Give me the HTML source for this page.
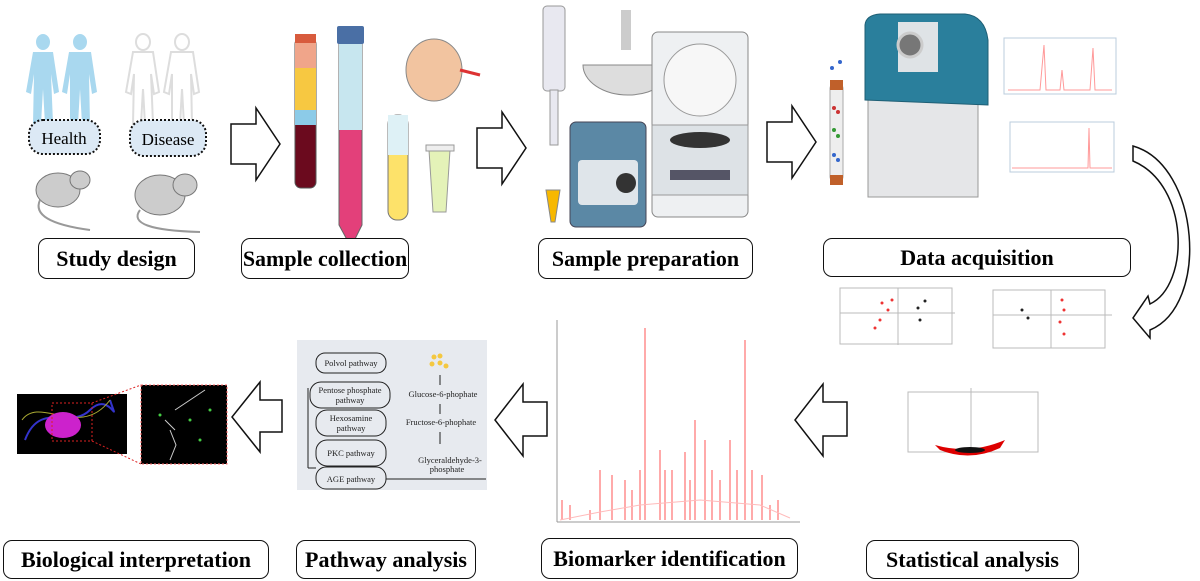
<!DOCTYPE html>
<html><head><meta charset="utf-8"><style>
html,body{margin:0;padding:0;background:#fff;}
body{width:1200px;height:581px;overflow:hidden;position:relative;font-family:"Liberation Serif",serif;}
.lbl{position:absolute;border:1.5px solid #111;border-radius:9px;background:#fff;display:flex;align-items:center;justify-content:center;font-weight:bold;font-size:22px;color:#000;box-sizing:border-box;}
svg{position:absolute;left:0;top:0;}
</style></head><body>
<svg width="1200" height="581" viewBox="0 0 1200 581">
<!-- Study design figures -->
<g fill="#a9d8ef">
<ellipse cx="43" cy="42" rx="7" ry="8"/><path d="M33 52h20l6 40-5 2-3-20 2 50h-8l-2-35-2 35h-8l1-50-3 20-5-2z"/>
<ellipse cx="80" cy="42" rx="7" ry="8"/><path d="M69 52h22l6 40-5 2-3-20 1 50h-8l-2-35-2 35h-8l0-50-3 20-5-2z"/>
</g>
<g fill="none" stroke="#ddd" stroke-width="2">
<ellipse cx="143" cy="42" rx="7" ry="8"/><path d="M133 52h20l6 40-5 2-3-20 2 50h-8l-2-35-2 35h-8l1-50-3 20-5-2z"/>
<ellipse cx="182" cy="42" rx="7" ry="8"/><path d="M171 52h22l6 40-5 2-3-20 1 50h-8l-2-35-2 35h-8l0-50-3 20-5-2z"/>
</g>
<rect x="29" y="120" width="71" height="34" rx="14" fill="#dce9f5" stroke="#111" stroke-width="2" stroke-dasharray="2 2"/>
<text x="64" y="144" font-size="17" text-anchor="middle" font-family="Liberation Serif">Health</text>
<rect x="130" y="120" width="76" height="36" rx="14" fill="#dce9f5" stroke="#111" stroke-width="2" stroke-dasharray="2 2"/>
<text x="168" y="145" font-size="17" text-anchor="middle" font-family="Liberation Serif">Disease</text>
<g fill="#ccc" stroke="#777" stroke-width="1">
<ellipse cx="58" cy="190" rx="22" ry="17"/><ellipse cx="80" cy="180" rx="10" ry="9"/>
<ellipse cx="160" cy="195" rx="25" ry="20"/><ellipse cx="185" cy="185" rx="12" ry="11"/>
</g>
<path d="M40 200 Q30 222 90 230" fill="none" stroke="#999" stroke-width="2"/>
<path d="M140 210 Q125 230 200 232" fill="none" stroke="#999" stroke-width="2"/>

<!-- arrows right -->
<path d="M231 124h25v-16l24 36-24 36v-16h-25z" fill="#fff" stroke="#111" stroke-width="1.5"/>
<path d="M477 128h25v-16l24 36-24 36v-16h-25z" fill="#fff" stroke="#111" stroke-width="1.5"/>
<path d="M767 122h25v-16l24 36-24 36v-16h-25z" fill="#fff" stroke="#111" stroke-width="1.5"/>
<!-- curved arrow -->
<path d="M1133 146 C1200 165 1210 305 1150 330 L1150 338 L1133 318 L1148 296 L1150 304 C1190 285 1190 185 1133 161 Z" fill="#fff" stroke="#111" stroke-width="1.5"/>

<!-- sample collection -->
<rect x="295" y="38" width="21" height="150" rx="6" fill="#6b0a1e" stroke="#555"/>
<rect x="295" y="38" width="21" height="30" fill="#f0a58a"/>
<rect x="295" y="68" width="21" height="42" fill="#f7c841"/>
<rect x="295" y="110" width="21" height="15" fill="#8ccbe8"/>
<rect x="295" y="34" width="21" height="9" fill="#d85b3d"/>
<path d="M339 40h23v185l-11 22-12-22z" fill="#e3407a" stroke="#666"/>
<rect x="339" y="40" width="23" height="90" fill="#c7e6ef"/>
<rect x="337" y="26" width="27" height="18" fill="#4a6fa5" rx="2"/>
<ellipse cx="434" cy="70" rx="28" ry="31" fill="#f2c4a0" stroke="#888"/>
<path d="M460 70l20 5" stroke="#d33" stroke-width="3"/>
<rect x="388" y="115" width="20" height="105" rx="9" fill="#fde26a" stroke="#777"/>
<rect x="388" y="115" width="20" height="40" fill="#def1f6"/>
<path d="M429 150h21l-4 62h-13z" fill="#e4f2b8" stroke="#999"/>
<rect x="426" y="145" width="28" height="6" fill="#eee" stroke="#999"/>

<!-- sample prep -->
<rect x="543" y="6" width="22" height="85" rx="4" fill="#e8e8f0" stroke="#999"/>
<rect x="550" y="90" width="8" height="55" fill="#e8e8f0" stroke="#999"/>
<path d="M546 190h14l-5 32h-4z" fill="#f7b800" stroke="#888"/>
<path d="M583 65 a45 30 0 0 0 90 0z" fill="#ddd" stroke="#888"/>
<rect x="621" y="10" width="10" height="40" fill="#ccc"/>
<rect x="570" y="122" width="76" height="105" rx="6" fill="#5b88a5" stroke="#445"/>
<rect x="578" y="160" width="60" height="45" rx="4" fill="#dfe5ea"/>
<circle cx="626" cy="183" r="10" fill="#333"/>
<rect x="652" y="32" width="96" height="185" rx="6" fill="#eef0f2" stroke="#888"/>
<circle cx="700" cy="80" r="36" fill="#f7f7f7" stroke="#999"/>
<rect x="652" y="125" width="96" height="70" fill="#dde2e6" stroke="#999"/>
<ellipse cx="700" cy="140" rx="30" ry="8" fill="#333"/>
<rect x="670" y="170" width="60" height="10" fill="#556"/>

<!-- data acquisition -->
<rect x="830" y="85" width="13" height="95" rx="3" fill="#eee" stroke="#aaa"/>
<rect x="830" y="80" width="13" height="10" fill="#c0602a"/><rect x="830" y="175" width="13" height="10" fill="#c0602a"/>
<g fill="#c33"><circle cx="834" cy="108" r="2"/><circle cx="838" cy="112" r="2"/></g>
<g fill="#393"><circle cx="834" cy="130" r="2"/><circle cx="838" cy="136" r="2"/></g>
<g fill="#36c"><circle cx="834" cy="155" r="2"/><circle cx="838" cy="160" r="2"/><circle cx="832" cy="68" r="2"/><circle cx="840" cy="62" r="2"/></g>
<rect x="868" y="95" width="110" height="102" fill="#e5e6e8" stroke="#999"/>
<path d="M865 25 Q866 15 880 14 L965 14 Q985 16 988 40 L988 105 L865 100z" fill="#2a7f9c" stroke="#1f5f75"/>
<rect x="898" y="22" width="40" height="50" fill="#dfe3e6"/>
<circle cx="910" cy="45" r="12" fill="#777" stroke="#ccc" stroke-width="3"/>
<rect x="1004" y="38" width="112" height="56" fill="#fff" stroke="#bcd"/>
<path d="M1008 90 L1040 90 1044 45 1046 90 1060 90 1062 70 1064 90 1090 90 1093 48 1095 90 1112 90" fill="none" stroke="#f99"/>
<rect x="1010" y="122" width="104" height="50" fill="#fff" stroke="#bcd"/>
<path d="M1012 168 L1088 168 1089 128 1090 168 1112 168" fill="none" stroke="#f99"/>

<!-- stats -->
<g stroke="#bbb" fill="none"><rect x="840" y="288" width="112" height="56"/><line x1="840" y1="313" x2="955" y2="313"/><line x1="898" y1="288" x2="898" y2="345"/>
<rect x="993" y="290" width="112" height="58"/><line x1="993" y1="315" x2="1112" y2="315"/><line x1="1051" y1="290" x2="1051" y2="348"/>
<rect x="908" y="392" width="130" height="60"/><line x1="971" y1="388" x2="971" y2="452"/></g>
<g fill="#e33"><circle cx="882" cy="303" r="1.5"/><circle cx="888" cy="310" r="1.5"/><circle cx="880" cy="320" r="1.5"/><circle cx="875" cy="328" r="1.5"/><circle cx="892" cy="300" r="1.5"/>
<circle cx="1062" cy="300" r="1.5"/><circle cx="1064" cy="310" r="1.5"/><circle cx="1060" cy="322" r="1.5"/><circle cx="1064" cy="334" r="1.5"/></g>
<g fill="#222"><circle cx="918" cy="308" r="1.5"/><circle cx="925" cy="301" r="1.5"/><circle cx="920" cy="320" r="1.5"/><circle cx="1022" cy="310" r="1.5"/><circle cx="1028" cy="318" r="1.5"/></g>
<path d="M935 445 Q970 455 1005 440 L1000 448 Q970 462 940 450z" fill="#d00"/>
<ellipse cx="970" cy="450" rx="15" ry="3" fill="#111"/>

<!-- pathway image -->
<rect x="297" y="340" width="190" height="150" fill="#e7eaef"/>
<g font-family="Liberation Serif" font-size="8.5" fill="#222" text-anchor="middle">
<rect x="316" y="353" width="70" height="20" rx="9" fill="none" stroke="#222"/><text x="351" y="366">Polvol pathway</text>
<rect x="310" y="382" width="80" height="26" rx="11" fill="none" stroke="#222"/><text x="350" y="393">Pentose phosphate</text><text x="350" y="403">pathway</text>
<rect x="316" y="410" width="70" height="26" rx="11" fill="none" stroke="#222"/><text x="351" y="421">Hexosamine</text><text x="351" y="431">pathway</text>
<rect x="316" y="440" width="70" height="26" rx="11" fill="none" stroke="#222"/><text x="351" y="456">PKC pathway</text>
<rect x="316" y="467" width="70" height="22" rx="10" fill="none" stroke="#222"/><text x="351" y="482">AGE pathway</text>
<text x="443" y="397">Glucose-6-phophate</text><text x="441" y="425">Fructose-6-phophate</text>
<text x="450" y="463">Glyceraldehyde-3-</text><text x="447" y="472">phosphate</text>
</g>
<g fill="#f4c840"><circle cx="434" cy="357" r="2.5"/><circle cx="440" cy="356" r="2.5"/><circle cx="432" cy="364" r="2.5"/><circle cx="440" cy="363" r="2.5"/><circle cx="446" cy="366" r="2.5"/></g>
<path d="M440 375v10M440 404v10M440 432v12" stroke="#222"/>
<path d="M308 388v80M308 468h8M486 479H386" stroke="#222" fill="none"/>

<!-- spectrum -->
<line x1="557" y1="320" x2="557" y2="522" stroke="#999"/><line x1="557" y1="522" x2="800" y2="522" stroke="#999"/>
<path d="M562 520V500M570 520V505M590 520V510M600 520V470M612 520V475M625 520V480M632 520V490M640 520V470M645 520V328M660 520V450M665 520V470M672 520V470M685 520V452M690 520V480M695 520V420M705 520V440M712 520V470M720 520V480M730 520V440M737 520V470M745 520V340M752 520V470M762 520V475M770 520V505M778 520V500" fill="none" stroke="#f55" stroke-width="1"/>
<path d="M560 520 L600 512 L640 505 L700 500 L760 505 L790 518" stroke="#fbb" fill="none"/>

<!-- arrows left -->
<path d="M282 400v32h-22v20l-28-35 28-35v18z" fill="#fff" stroke="#111" stroke-width="1.5"/>
<path d="M547 402v34h-24v20l-28-36 28-36v18z" fill="#fff" stroke="#111" stroke-width="1.5"/>
<path d="M847 402v34h-24v20l-28-36 28-36v18z" fill="#fff" stroke="#111" stroke-width="1.5"/>

<!-- bio interpretation -->
<rect x="17" y="394" width="110" height="60" fill="#000"/>
<path d="M25 440 C40 400 70 430 90 410 S120 430 110 400" stroke="#33c" stroke-width="2" fill="none"/>
<path d="M22 420 C40 395 80 440 110 400" stroke="#aa3" stroke-width="1" fill="none"/>
<ellipse cx="63" cy="425" rx="18" ry="13" fill="#c2c"/>
<rect x="52" y="403" width="40" height="38" fill="none" stroke="#d22" stroke-dasharray="2 2"/>
<rect x="141" y="385" width="86" height="79" fill="#000" stroke="#f66" stroke-dasharray="2 2"/>
<path d="M92 403L141 385M92 441L141 464" stroke="#d22" stroke-dasharray="2 2"/>
<path d="M170 430l6 15-6 15M175 410l30 -20M165 420l10 10" stroke="#ccc" fill="none"/>
<g fill="#4c4"><circle cx="190" cy="420" r="1.5"/><circle cx="200" cy="440" r="1.5"/><circle cx="160" cy="415" r="1.5"/><circle cx="210" cy="410" r="1.5"/></g>
</svg>
<div class="lbl" style="left:38px;top:238px;width:157px;height:41px;">Study design</div>
<div class="lbl" style="left:241px;top:238px;width:168px;height:41px;">Sample collection</div>
<div class="lbl" style="left:538px;top:238px;width:215px;height:41px;">Sample preparation</div>
<div class="lbl" style="left:823px;top:238px;width:308px;height:39px;">Data acquisition</div>
<div class="lbl" style="left:3px;top:540px;width:266px;height:39px;">Biological interpretation</div>
<div class="lbl" style="left:296px;top:540px;width:180px;height:39px;">Pathway analysis</div>
<div class="lbl" style="left:541px;top:538px;width:257px;height:41px;">Biomarker identification</div>
<div class="lbl" style="left:866px;top:540px;width:213px;height:39px;">Statistical analysis</div>
</body></html>
